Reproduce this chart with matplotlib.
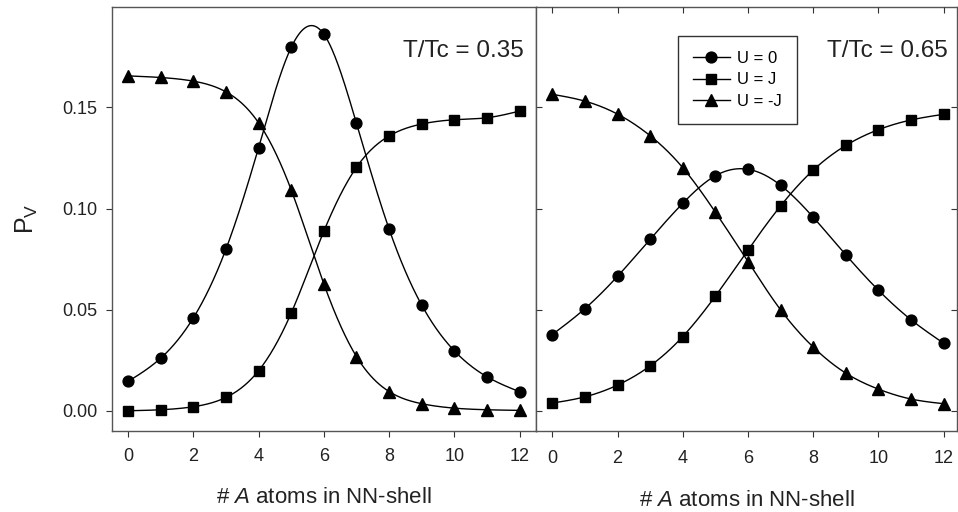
import numpy as np
import matplotlib
matplotlib.use('Agg')
import matplotlib.pyplot as plt
from matplotlib.ticker import FormatStrFormatter

plt.rcParams['font.family'] = ['Liberation Sans', 'DejaVu Sans']
plt.rcParams['mathtext.fontset'] = 'custom'
plt.rcParams['mathtext.rm'] = 'Liberation Sans'
plt.rcParams['mathtext.it'] = 'Liberation Sans:italic'

n_atoms = np.arange(13)

# T/Tc = 0.35
low_u0 = [0.0145, 0.026, 0.0459, 0.0799, 0.1301, 0.1797, 0.1862, 0.1421,
          0.0898, 0.0522, 0.0296, 0.0168, 0.0094]
low_uj = [0.0, 0.0005, 0.002, 0.0066, 0.0198, 0.0483, 0.0888, 0.1204,
          0.1359, 0.1418, 0.1439, 0.1449, 0.1482]
low_umj = [0.1656, 0.1648, 0.163, 0.1577, 0.1424, 0.1092, 0.0627, 0.0268,
           0.0095, 0.0035, 0.0013, 0.0005, 0.0002]

# T/Tc = 0.65
high_u0 = [0.0377, 0.0505, 0.0665, 0.0848, 0.1026, 0.1162, 0.1194, 0.1115,
           0.0957, 0.0771, 0.0596, 0.045, 0.0334]
high_uj = [0.0038, 0.0069, 0.0127, 0.0222, 0.0367, 0.0567, 0.0795, 0.1013,
           0.119, 0.1312, 0.139, 0.1438, 0.1466]
high_umj = [0.1565, 0.1531, 0.1467, 0.136, 0.1202, 0.0982, 0.0738, 0.0499,
            0.0315, 0.0186, 0.0107, 0.0058, 0.0035]

labels = ['U = 0', 'U = J', 'U = -J']
markers = ['o', 's', '^']
temps = ['T/Tc = 0.35', 'T/Tc = 0.65']


def smooth(x, y, num=400):
    # natural cubic spline, only used to draw the connecting curve
    x = np.asarray(x, float)
    y = np.asarray(y, float)
    n = len(x)
    h = np.diff(x)
    A = np.zeros((n, n))
    r = np.zeros(n)
    A[0, 0] = A[-1, -1] = 1
    for i in range(1, n - 1):
        A[i, i - 1] = h[i - 1]
        A[i, i] = 2 * (h[i - 1] + h[i])
        A[i, i + 1] = h[i]
        r[i] = 6 * ((y[i + 1] - y[i]) / h[i] - (y[i] - y[i - 1]) / h[i - 1])
    M = np.linalg.solve(A, r)
    xs = np.linspace(x[0], x[-1], num)
    i = np.clip(np.searchsorted(x, xs) - 1, 0, n - 2)
    hi = h[i]
    a = x[i + 1] - xs
    b = xs - x[i]
    ys = (M[i] * a ** 3 + M[i + 1] * b ** 3) / (6 * hi) \
        + (y[i] / hi - M[i] * hi / 6) * a + (y[i + 1] / hi - M[i + 1] * hi / 6) * b
    return xs, ys


fig = plt.figure(figsize=(9.58, 5.12), dpi=100)
ax1 = fig.add_axes([0.1166, 0.1582, 0.4429, 0.8275])
ax2 = fig.add_axes([0.5595, 0.1582, 0.4395, 0.8275])

panels = [(ax1, [low_u0, low_uj, low_umj]), (ax2, [high_u0, high_uj, high_umj])]
msizes = [7.8, 7.0, 8.0]

for k, (ax, series) in enumerate(panels):
    for ys, m, lab, ms in zip(series, markers, labels, msizes):
        sx, sy = smooth(n_atoms, ys)
        ax.plot(sx, sy, color='black', lw=1.0, zorder=2)
        ax.plot(n_atoms, ys, linestyle='none', marker=m, color='black',
                markersize=ms, zorder=3)
        # legend proxy
        ax.plot([], [], color='black', lw=1.0, marker=m, markersize=ms, label=lab)
    ax.set_ylim(-0.01, 0.1995)
    ax.set_xticks(np.arange(0, 13, 2))
    ax.set_yticks([0.0, 0.05, 0.10, 0.15])
    for sp in ax.spines.values():
        sp.set_color('#555555')
        sp.set_linewidth(1.0)
    ax.tick_params(colors='#333333', labelcolor='#222222', labelsize=13,
                   length=4.5, width=0.8)
    ax.tick_params(axis='x', pad=8 + 1.5 * k)
    ax.set_xlabel('# $\\mathit{A}$ atoms in NN-shell', fontsize=16,
                  color='#222222', labelpad=15.5 + 1.0 * k)
    ax.text(0.97 + 0.008 * k, 0.882, temps[k], transform=ax.transAxes,
            ha='right', va='baseline', fontsize=17.5, color='#222222')

ax1.set_xlim(-0.5, 12.5)
ax2.set_xlim(-0.5, 12.41)
ax1.yaxis.set_major_formatter(FormatStrFormatter('%.2f'))
ax1.tick_params(axis='y', pad=6)
ax1.set_ylabel('P$_\\mathrm{V}$', fontsize=18, color='#222222', labelpad=16)

ax2.tick_params(axis='y', direction='in', left=True, right=True, labelleft=False)

# inward top ticks on right panel
top = ax2.twiny()
top.set_xlim(ax2.get_xlim())
top.set_xticks(np.arange(0, 13, 2))
top.tick_params(axis='x', direction='in', length=4.5, width=0.8, colors='#333333',
                labeltop=False)
for sp in top.spines.values():
    sp.set_visible(False)

leg = ax2.legend(loc='upper left', bbox_to_anchor=(0.337, 0.932), fontsize=12,
                 frameon=True, fancybox=False, edgecolor='black',
                 handlelength=2.2, borderpad=0.9, labelspacing=0.38,
                 handletextpad=0.45, borderaxespad=0)
leg.get_frame().set_linewidth(1.0)

fig.savefig('out.png', dpi=100)
